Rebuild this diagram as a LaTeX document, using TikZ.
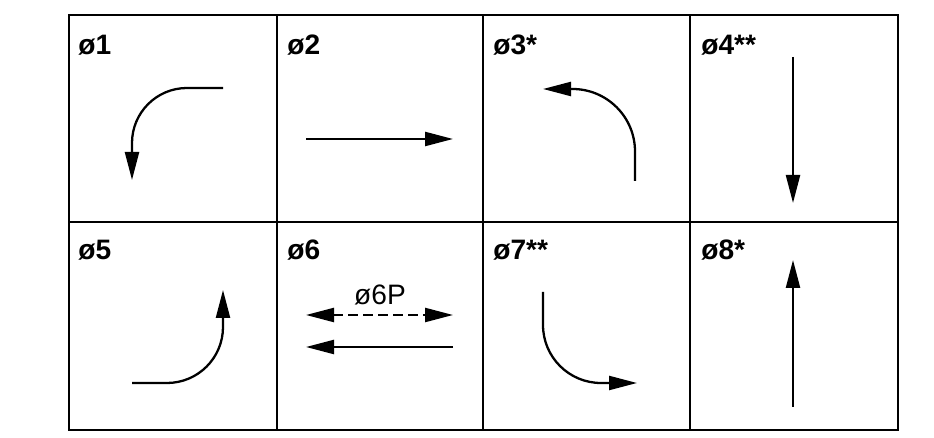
\documentclass[tikz,border=0pt]{standalone}
\usepackage{fontspec}
\setmainfont{Liberation Sans}
\usetikzlibrary{arrows.meta}

\begin{document}
\begin{tikzpicture}[>={Triangle[length=5.6mm,width=2.8mm]},
    phase/.style={anchor=base west, inner sep=0pt, font=\fontsize{16}{16}\selectfont\bfseries},
    move/.style={->, line width=1.3pt},
    grid line/.style={line width=1.6pt}]
  \useasboundingbox (0,0) rectangle (18.68,-8.76);
  % table
  \draw[grid line] (1.38,-0.30) rectangle (17.96,-8.60);
  \draw[grid line] (1.38,-4.44) -- (17.96,-4.44);
  \draw[grid line] (5.54,-0.30) -- (5.54,-8.60);
  \draw[grid line] (9.66,-0.30) -- (9.66,-8.60);
  \draw[grid line] (13.80,-0.30) -- (13.80,-8.60);
  % phase labels
  \node[phase] (p1) at (1.56,-1.10) {ø1};
  \node[phase] (p2) at (5.74,-1.10) {ø2};
  \node[phase] (p3) at (9.86,-1.10) {ø3*};
  \node[phase] (p4) at (14.02,-1.10) {ø4**};
  \node[phase] (p5) at (1.56,-5.20) {ø5};
  \node[phase] (p6) at (5.74,-5.20) {ø6};
  \node[phase] (p7) at (9.86,-5.20) {ø7**};
  \node[phase] (p8) at (14.02,-5.20) {ø8*};
  % movements
  \draw[move] (4.46,-1.76) -- (3.74,-1.76) arc[start angle=90,end angle=180,radius=1.1] -- (2.64,-3.60);
  \draw[move] (6.12,-2.78) -- (9.06,-2.78);
  \draw[move] (12.70,-3.62) -- (12.70,-3.03) arc[start angle=0,end angle=90,radius=1.25] -- (10.86,-1.78);
  \draw[move] (15.86,-1.14) -- (15.86,-4.06);
  \draw[move] (2.64,-7.66) -- (3.34,-7.66) arc[start angle=-90,end angle=0,radius=1.12] -- (4.46,-5.80);
  \draw[move,<->,dash pattern=on 2mm off 1mm] (6.12,-6.30) -- (9.06,-6.30);
  \node[anchor=base, inner sep=0pt, font=\fontsize{16}{16}\selectfont] (p6p) at (7.60,-6.10) {ø6P};
  \draw[move] (9.06,-6.94) -- (6.12,-6.94);
  \draw[move] (10.86,-5.84) -- (10.86,-6.50) arc[start angle=180,end angle=270,radius=1.16] -- (12.74,-7.66);
  \draw[move] (15.86,-8.14) -- (15.86,-5.20);
\end{tikzpicture}
\end{document}
